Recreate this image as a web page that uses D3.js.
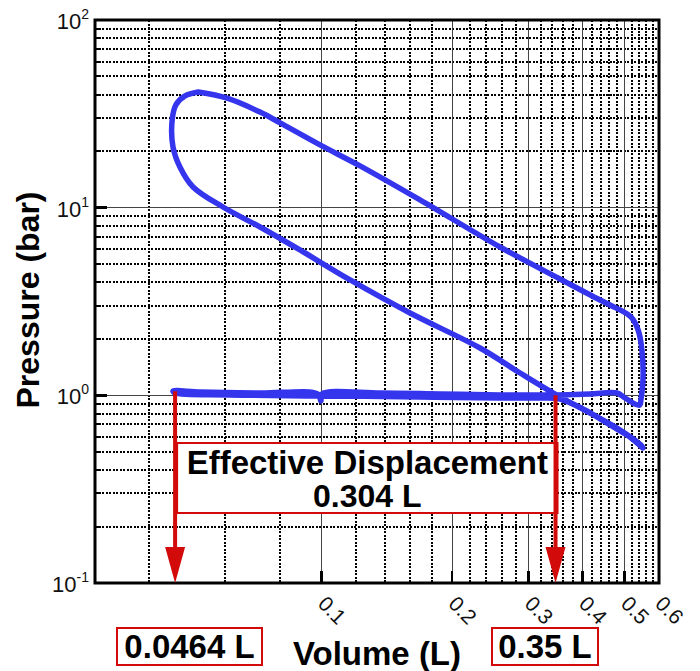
<!DOCTYPE html>
<html><head><meta charset="utf-8">
<script src="https://cdn.jsdelivr.net/npm/d3@7"></script>
<style>
html,body{margin:0;padding:0;background:#fff;}
svg{display:block;font-family:"Liberation Sans",Arial,Helvetica,sans-serif;}
</style></head>
<body>
<svg id="chart" width="700" height="671"></svg>
<script>
// ---- data (Volume in L, Pressure in bar) ----
const expansion = [
  [0.0519,41.3],[0.0605,38.3],[0.0721,32.3],[0.0802,28.3],[0.0991,21.6],[0.1226,16.7],
  [0.1686,11.0],[0.2579,6.17],[0.3546,4.17],[0.4386,3.22],[0.488,2.85],[0.517,2.62],
  [0.537,2.23],[0.548,1.74],[0.551,1.21],[0.545,0.945],[0.542,0.888],[0.528,0.899],
  [0.501,0.968],[0.480,1.029]
];
const exhaust = [
  [0.416,1.017],[0.349,1.005],[0.258,1.005],[0.1875,1.017],[0.1363,1.029],[0.1001,1.017],
  [0.0996,0.933],[0.0980,1.017],[0.0721,1.029],[0.0524,1.042],[0.0454,1.055]
];
const intake = [
  [0.0459,1.029],[0.0614,1.005],[0.0991,0.993],[0.1686,0.980],[0.2579,0.968],[0.3189,0.968],
  [0.3546,0.956],[0.405,0.835],[0.4625,0.695],[0.514,0.600],[0.551,0.524]
];
const compression = [
  [0.545,0.544],[0.488,0.654],[0.416,0.805],[0.3546,0.980],[0.2868,1.315],[0.2319,1.787],
  [0.1599,2.747],[0.1163,4.12],[0.0891,5.95],[0.0721,7.89],[0.0592,10.08],[0.0505,12.89],
  [0.0471,16.47],[0.0454,21.05],[0.0452,29.3],[0.0461,35.3],[0.0484,39.4],[0.0519,41.3]
];
const xTickValues = [0.1,0.2,0.3,0.4,0.5,0.6];
const xTickLabels = ["0.1","0.2","0.3","0.4","0.5","0.6"];
const yTickValues = [0.1,1,10,100];
const yTickExponents = ["-1","0","1","2"];
const markerVolumes = [0.0464,0.35];
const markerTopPressures = [1.05,1.0];
const markerLabels = ["0.0464 L","0.35 L"];
const displacementLabel = ["Effective Displacement","0.304 L"];

// ---- layout ----
const svg = d3.select("#chart");
const L=95, R=659, T=20, B=583;
const x = d3.scaleLog().domain([0.03,0.6]).range([L,R]);
const y = d3.scaleLog().domain([0.1,100]).range([B,T]);
const RED="#d20a0a", BLUE="#3535ee";

// grid
const g = svg.append("g").attr("shape-rendering","crispEdges");
const minorY=[]; [0.1,1,10].forEach(d=>{for(let k=2;k<=9;k++) minorY.push(+(d*k).toPrecision(3));});
g.selectAll(".hy").data(minorY).join("line")
  .attr("x1",L).attr("x2",R).attr("y1",d=>Math.round(y(d))).attr("y2",d=>Math.round(y(d)))
  .attr("stroke","#000").attr("stroke-width",2).attr("stroke-dasharray","2,1.5");
const minorX = d3.range(4,60,2).map(k=>+(k/100).toFixed(2)).filter(v=>!xTickValues.includes(v));
g.selectAll(".vx").data(minorX).join("line")
  .attr("y1",T).attr("y2",B).attr("x1",d=>Math.round(x(d))).attr("x2",d=>Math.round(x(d)))
  .attr("stroke","#000").attr("stroke-width",2).attr("stroke-dasharray","2,1.5");
g.selectAll(".my").data([1,10]).join("line")
  .attr("x1",L).attr("x2",R).attr("y1",d=>y(d)).attr("y2",d=>y(d))
  .attr("stroke","#444").attr("stroke-width",1.3);
g.selectAll(".mx").data(xTickValues.slice(0,5)).join("line")
  .attr("y1",T).attr("y2",B).attr("x1",d=>x(d)).attr("x2",d=>x(d))
  .attr("stroke","#444").attr("stroke-width",1.3);

// ticks
g.selectAll(".ty").data(minorY).join("line")
  .attr("x1",L).attr("x2",L+6).attr("y1",d=>y(d)).attr("y2",d=>y(d))
  .attr("stroke","#000").attr("stroke-width",2);
g.selectAll(".tY").data([1,10]).join("line")
  .attr("x1",L).attr("x2",L+12).attr("y1",d=>y(d)).attr("y2",d=>y(d))
  .attr("stroke","#000").attr("stroke-width",2.5);
g.selectAll(".tx").data(xTickValues).join("line")
  .attr("y1",B).attr("y2",B-12).attr("x1",d=>x(d)).attr("x2",d=>x(d))
  .attr("stroke","#000").attr("stroke-width",2.5);

// frame
svg.append("rect").attr("x",L).attr("y",T).attr("width",R-L).attr("height",B-T)
  .attr("fill","none").attr("stroke","#000").attr("stroke-width",3);

// y tick labels
const yl = svg.append("g").selectAll("text").data(yTickValues).join("text")
  .attr("x",89).attr("y",d=>y(d)+9).attr("text-anchor","end")
  .attr("font-size",22).attr("fill","#111");
yl.append("tspan").text("10");
yl.append("tspan").attr("dy",-10).attr("font-size",14).text((d,i)=>yTickExponents[i]);

// x tick labels (rotated)
svg.append("g").selectAll("text").data(xTickValues).join("text")
  .attr("transform",d=>`translate(${x(d)-5},${B+22}) rotate(45)`)
  .attr("font-size",21).attr("fill","#111").text((d,i)=>xTickLabels[i]);

// axis titles
svg.append("text").attr("transform","translate(39,300) rotate(-90)")
  .attr("text-anchor","middle").attr("font-weight","bold").attr("font-size",32)
  .text("Pressure (bar)");
svg.append("text").attr("x",377).attr("y",665)
  .attr("text-anchor","middle").attr("font-weight","bold").attr("font-size",33)
  .text("Volume (L)");

// PV loop
const loop = [].concat(expansion, exhaust, intake, compression);
const line = d3.line().x(d=>x(d[0])).y(d=>y(d[1])).curve(d3.curveCatmullRom.alpha(0.5));
svg.append("path").attr("d",line(loop)).attr("fill","none")
  .attr("stroke",BLUE).attr("stroke-width",5.5).attr("stroke-linejoin","round").attr("stroke-linecap","round");

// displacement box
const bx0 = x(markerVolumes[0]), bx1 = x(markerVolumes[1]);
svg.append("rect").attr("x",bx0).attr("y",443).attr("width",bx1-bx0).attr("height",70)
  .attr("fill","#fff").attr("stroke",RED).attr("stroke-width",2);
svg.append("text").attr("x",(bx0+bx1)/2).attr("y",474).attr("text-anchor","middle")
  .attr("font-weight","bold").attr("font-size",33).text(displacementLabel[0]);
svg.append("text").attr("x",(bx0+bx1)/2).attr("y",507).attr("text-anchor","middle")
  .attr("font-weight","bold").attr("font-size",32).text(displacementLabel[1]);

// arrows
markerVolumes.forEach((v,i)=>{
  const ax = x(v)-2;
  svg.append("line").attr("x1",ax).attr("x2",ax).attr("y1",y(markerTopPressures[i])).attr("y2",B-30)
    .attr("stroke",RED).attr("stroke-width",4);
  svg.append("path").attr("d",`M${ax-10},${B-36} L${ax+10},${B-36} L${ax},${B} Z`).attr("fill",RED);
});

// marker label boxes
const boxes = [{cx:189.5,w:145},{cx:545,w:106}];
markerLabels.forEach((t,i)=>{
  const b=boxes[i];
  svg.append("rect").attr("x",b.cx-b.w/2).attr("y",628).attr("width",b.w).attr("height",37)
    .attr("fill","#fff").attr("stroke",RED).attr("stroke-width",2);
  svg.append("text").attr("x",b.cx).attr("y",658).attr("text-anchor","middle")
    .attr("font-weight","bold").attr("font-size",33).text(t);
});
</script>
</body></html>
